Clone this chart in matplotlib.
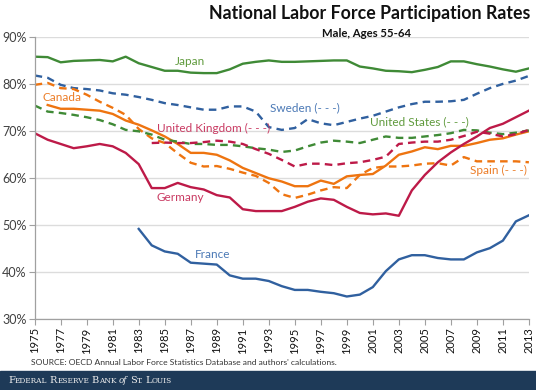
import numpy as np
import matplotlib
matplotlib.use('Agg')
from matplotlib import pyplot as plt
from matplotlib.ticker import PercentFormatter
from matplotlib.patches import Rectangle

nan = np.nan
years = np.arange(1975, 2014)

japan = [85.9, 85.8, 84.7, 85.0, 85.1, 85.2, 84.9, 85.9, 84.5, 83.7, 82.9, 82.9, 82.5, 82.4, 82.4,
         83.2, 84.4, 84.8, 85.1, 84.8, 84.8, 84.9, 85.0, 85.1, 85.1, 83.8, 83.4, 82.9, 82.8, 82.6,
         83.1, 83.7, 84.9, 84.9, 84.3, 83.8, 83.2, 82.7, 83.4]
sweden = [81.9, 81.4, 79.9, 79.2, 79.0, 78.7, 78.1, 77.8, 77.3, 76.7, 76.0, 75.6, 75.1, 74.6, 74.6,
          75.3, 75.3, 74.2, 70.9, 70.3, 70.7, 72.6, 71.7, 71.3, 72.0, 72.7, 73.3, 74.2, 75.1, 75.8,
          76.3, 76.3, 76.4, 76.7, 78.0, 79.2, 80.1, 80.8, 81.8]
canada = [nan, 75.6, 74.8, 74.8, 74.6, 74.4, 73.7, 72.3, 71.4, 70.2, 68.9, 67.3, 65.4, 65.4, 65.0,
          63.8, 62.2, 61.1, 60.0, 59.3, 58.3, 58.3, 59.5, 58.8, 60.4, 60.7, 60.9, 62.7, 65.0, 65.7,
          66.6, 66.2, 66.9, 66.9, 67.5, 68.2, 68.5, 69.3, 70.0]
spain = [79.9, 80.3, 79.2, 79.0, 77.8, 76.3, 75.0, 73.5, 70.5, 68.5, 67.5, 65.3, 63.3, 62.5, 62.6,
         62.0, 61.2, 60.5, 59.0, 56.6, 55.8, 56.5, 57.4, 58.1, 57.9, 60.7, 62.2, 62.5, 62.5, 62.7,
         63.1, 63.2, 62.7, 64.5, 63.6, 63.6, 63.6, 63.6, 63.4]
united_states = [75.5, 74.2, 73.9, 73.5, 73.0, 72.4, 71.5, 70.3, 70.0, 69.3, 68.2, 67.8, 67.3, 67.3, 67.1,
                 67.1, 66.8, 66.4, 66.1, 65.6, 65.9, 66.8, 67.6, 68.0, 67.8, 67.5, 68.2, 68.9, 68.6, 68.6,
                 68.9, 69.2, 69.6, 70.3, 70.2, 69.7, 69.4, 69.7, 70.2]
united_kingdom = [nan] * 9 + [67.5, 67.6, 67.5, 67.5, 67.7, 68.0,
                              67.8, 67.3, 66.2, 65.2, 63.9, 62.5, 63.1, 63.1, 62.8, 63.2, 63.4, 63.9, 64.6, 67.3, 67.6,
                              67.8, 67.8, 68.2, 69.0, 69.9, 69.5, 68.9, 69.4, 70.3]
germany = [69.6, 68.2, 67.3, 66.4, 66.8, 67.3, 66.8, 65.4, 63.0, 57.9, 57.9, 59.0, 58.1, 57.6, 56.4,
           55.9, 53.4, 53.0, 53.0, 53.0, 53.9, 55.0, 55.7, 55.4, 53.9, 52.6, 52.3, 52.5, 52.0, 57.4,
           60.7, 63.4, 65.5, 67.3, 68.9, 70.7, 71.6, 73.0, 74.4]
france = [nan] * 8 + [49.2, 45.7, 44.4, 43.9, 42.0, 41.8, 41.6,
                      39.3, 38.6, 38.6, 38.1, 37.0, 36.2, 36.2, 35.8, 35.5, 34.8, 35.2, 36.8, 40.2, 42.7, 43.6,
                      43.6, 43.0, 42.7, 42.7, 44.2, 45.1, 46.7, 50.8, 52.1]

green = '#3f8a36'
blue = '#30609f'
orange = '#ee7410'
crimson = '#bd1a48'

plt.rcParams['font.family'] = ['Lato', 'DejaVu Sans']

fig = plt.figure(figsize=(5.36, 3.9), dpi=100)
ax = fig.add_axes([0.0647, 0.182, 0.922, 0.722])

lw = 1.7
dash = (0, (3.2, 2.2))
ax.plot(years, japan, color=green, lw=lw)
ax.plot(years, sweden, color=blue, lw=lw, linestyle=dash)
ax.plot(years, spain, color=orange, lw=lw, linestyle=dash)
ax.plot(years, canada, color=orange, lw=lw)
ax.plot(years, united_states, color=green, lw=lw, linestyle=dash)
ax.plot(years, united_kingdom, color=crimson, lw=lw, linestyle=dash)
ax.plot(years, germany, color=crimson, lw=lw)
ax.plot(years, france, color=blue, lw=lw)

# series labels
lab = dict(fontsize=8.5, ha='left', va='center')
ax.text(1985.8, 84.8, 'Japan', color='#5f9a3c', **lab)
ax.text(1975.6, 77.1, 'Canada', color='#ec7c26', **lab)
ax.text(1984.4, 70.7, 'United Kingdom (- - -)', color='#c93a62', **lab)
ax.text(1993.1, 75.0, 'Sweden (- - -)', color='#4a78b5', **lab)
ax.text(2000.8, 72.0, 'United States (- - -)', color='#5f9a3c', **lab)
ax.text(2008.5, 61.6, 'Spain (- - -)', color='#ec7c26', **lab)
ax.text(1984.4, 55.9, 'Germany', color='#c93a62', **lab)
ax.text(1987.3, 43.7, 'France', color='#4a78b5', **lab)

ax.set_xlim(1975, 2013)
ax.set_ylim(30, 90)
ax.set_yticks(np.arange(30, 91, 10))
ax.yaxis.set_major_formatter(PercentFormatter(xmax=100, decimals=0))
ax.set_xticks(np.arange(1975, 2014, 2))
ax.set_xticklabels([str(y) for y in range(1975, 2014, 2)], rotation=90)
ax.tick_params(axis='x', length=4, width=0.8, color='#a0a0a0', labelsize=8, labelcolor='#111111', pad=2)
ax.tick_params(axis='y', length=4, width=0.8, color='#a0a0a0', labelsize=9, labelcolor='#404040', pad=2)
ax.grid(axis='y', color='#dcdcdc', lw=1.0)
ax.set_axisbelow(True)
for s in ['top', 'right']:
    ax.spines[s].set_visible(False)
for s in ['left', 'bottom']:
    ax.spines[s].set_color('#a0a0a0')
    ax.spines[s].set_linewidth(0.9)

fig.text(0.99, 0.966, 'National Labor Force Participation Rates', ha='right', va='center',
         fontsize=12.8, fontweight='bold', color='#111111')
fig.text(0.683, 0.915, 'Male, Ages 55-64', ha='center', va='center',
         fontsize=8.2, fontweight='bold', color='#111111')
fig.text(0.058, 0.071, "SOURCE: OECD Annual Labor Force Statistics Database and authors' calculations.",
         ha='left', va='center', fontsize=6.1, color='#333333')

# footer bar with small-caps name
fig.patches.append(Rectangle((0, 0), 1, 0.048, transform=fig.transFigure, color='#1e3a58', zorder=0))
pieces = [('F', 7, 'normal', 0), ('EDERAL', 5.3, 'normal', 0), ('R', 7, 'normal', 2.5), ('ESERVE', 5.3, 'normal', 0),
          ('B', 7, 'normal', 2.5), ('ANK', 5.3, 'normal', 0), ('of', 6.3, 'italic', 2.5), ('S', 7, 'normal', 2.5),
          ('T.', 5.3, 'normal', 0), ('L', 7, 'normal', 2.5), ('OUIS', 5.3, 'normal', 0)]
renderer = fig.canvas.get_renderer()
x_px = 8
for txt, size, style, gap in pieces:
    x_px += gap
    t = fig.text(x_px / 536, 0.017, txt, fontsize=size, style=style, color='#eeeeee',
                 family='DejaVu Serif', va='baseline', ha='left')
    x_px += t.get_window_extent(renderer).width

fig.savefig('out.png', dpi=100)
plt.close()
